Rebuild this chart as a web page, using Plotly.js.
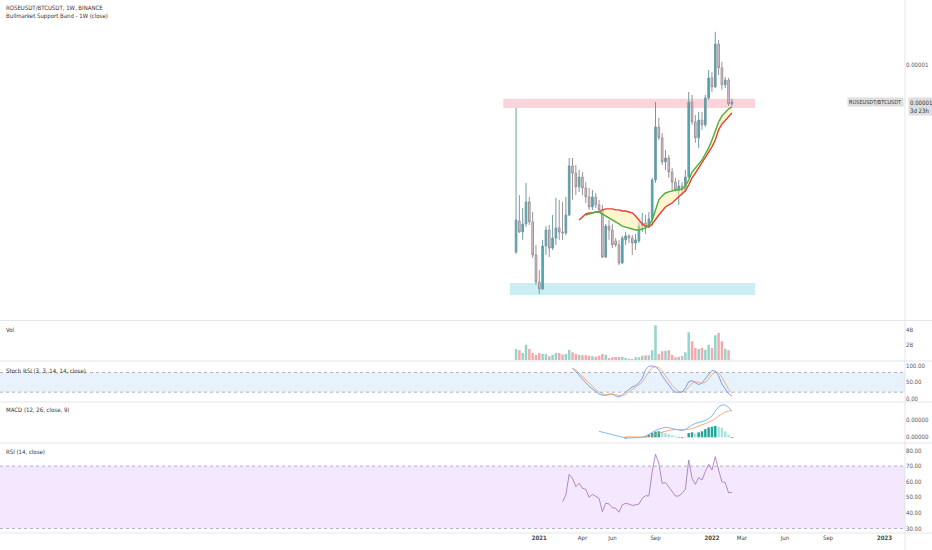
<!DOCTYPE html>
<html><head><meta charset="utf-8">
<script src="https://cdn.plot.ly/plotly-3.0.1.min.js"></script>
<style>html,body{margin:0;padding:0;background:#fff;}#chart{width:932px;height:550px;}</style>
</head><body><div id="chart"></div>
<script>
// Weekly candles (Monday dates)
const dates = ['2020-11-16','2020-11-23','2020-11-30','2020-12-07','2020-12-14','2020-12-21','2020-12-28',
'2021-01-04','2021-01-11','2021-01-18','2021-01-25','2021-02-01','2021-02-08','2021-02-15','2021-02-22',
'2021-03-01','2021-03-08','2021-03-15','2021-03-22','2021-03-29','2021-04-05','2021-04-12','2021-04-19','2021-04-26',
'2021-05-03','2021-05-10','2021-05-17','2021-05-24','2021-05-31','2021-06-07','2021-06-14','2021-06-21','2021-06-28',
'2021-07-05','2021-07-12','2021-07-19','2021-07-26','2021-08-02','2021-08-09','2021-08-16','2021-08-23','2021-08-30',
'2021-09-06','2021-09-13','2021-09-20','2021-09-27','2021-10-04','2021-10-11','2021-10-18','2021-10-25',
'2021-11-01','2021-11-08','2021-11-15','2021-11-22','2021-11-29','2021-12-06','2021-12-13','2021-12-20','2021-12-27',
'2022-01-03','2022-01-10','2022-01-17','2022-01-24','2022-01-31','2022-02-07','2022-02-14'];

// prices in units of 1e-6 (BTC)
const PRICE_UNIT = 1e-6;
const open = [2.94,4.11,3.70,4.00,4.83,4.08,2.83,1.81,1.55,3.17,3.77,3.09,3.47,3.85,3.70,3.66,4.34,6.19,5.92,5.40,
5.77,5.36,5.02,4.64,5.02,4.72,4.53,2.75,3.92,3.77,3.36,3.21,2.53,3.40,3.55,3.47,3.28,3.36,3.92,4.04,
3.89,4.19,5.66,7.66,7.25,6.34,6.49,5.96,5.58,5.28,5.43,5.28,5.77,8.60,7.85,7.25,7.92,7.74,8.75,9.51,
9.17,10.79,9.89,9.25,9.43,8.53];
const high = [8.38,5.09,4.60,5.55,5.02,4.45,3.21,2.26,3.40,3.92,3.96,4.34,4.98,4.91,4.83,5.02,6.49,6.49,6.23,6.04,
5.96,5.58,5.36,5.28,5.17,4.91,4.72,4.00,4.15,4.00,3.47,3.40,3.55,3.70,3.62,3.58,3.62,4.08,4.42,4.34,
4.45,5.74,8.60,8.00,7.43,6.79,6.60,6.11,5.74,5.66,5.58,6.04,8.98,8.87,8.11,8.23,8.23,8.87,9.81,9.74,
11.25,10.94,10.11,9.55,9.51,8.72];
const low = [2.87,3.66,3.40,3.89,3.96,2.72,1.70,1.36,1.51,2.83,2.75,3.02,3.21,3.40,3.40,3.58,4.30,4.91,5.09,5.21,
5.09,4.79,4.53,4.53,4.60,4.42,2.72,2.72,3.40,3.09,3.13,2.45,2.49,3.21,3.28,2.83,3.02,3.28,3.70,3.62,
3.85,3.92,5.55,7.17,6.23,6.04,5.74,5.28,5.21,4.72,5.09,5.21,5.74,7.74,7.06,6.87,7.55,7.66,8.68,8.98,
9.13,9.62,9.06,9.13,8.45,8.45];
const close = [4.15,3.70,4.00,4.83,4.08,2.83,1.81,1.55,3.17,3.77,3.09,3.47,3.85,3.70,3.66,4.34,6.19,5.92,5.40,5.77,
5.36,5.02,4.64,5.02,4.72,4.53,2.75,3.92,3.77,3.21,3.21,2.53,3.47,3.55,3.47,3.28,3.40,3.92,4.04,3.89,
4.19,5.66,7.66,7.25,6.34,6.49,5.96,5.58,5.28,5.43,5.28,5.77,8.60,7.85,7.25,7.92,7.74,8.75,9.51,9.17,
10.79,9.89,9.25,9.43,8.53,8.60];

// Bull market support band (units 1e-6)
const SMA_START = 19;
const sma20 = [4.15,4.26,4.38,4.42,4.42,4.45,4.45,4.53,4.57,4.57,4.57,4.53,4.53,4.49,4.49,4.45,4.42,4.30,4.15,4.00,
3.92,3.89,4.00,4.19,4.34,4.49,4.64,4.72,4.79,4.91,5.02,5.13,5.25,5.47,5.74,5.92,6.11,6.30,6.49,6.68,
6.91,7.17,7.55,7.77,7.92,8.08,8.19];
const EMA_START = 21;
const ema21 = [4.34,4.38,4.42,4.45,4.45,4.38,4.30,4.23,4.15,4.08,4.00,3.92,3.89,3.85,3.81,3.77,3.77,3.81,3.85,3.96,
4.15,4.53,4.91,5.06,5.17,5.21,5.25,5.28,5.28,5.32,5.43,5.66,5.96,6.11,6.23,6.42,6.64,6.87,7.17,7.55,
7.85,8.08,8.23,8.34,8.42];

// Volume in billions
const VOL_UNIT = 1e9;
const volume = [1.47,1.29,0.93,2.04,1.47,0.93,0.71,0.93,0.80,0.80,0.49,0.71,0.93,0.93,0.71,0.80,1.33,1.02,0.84,0.71,
0.62,0.62,0.58,0.49,0.44,0.58,0.80,0.71,0.27,0.36,0.40,0.40,0.44,0.27,0.18,0.13,0.36,0.36,0.58,0.62,
0.62,1.29,4.62,0.80,1.16,1.24,1.29,0.71,0.36,0.44,0.53,1.02,3.69,2.49,1.60,1.47,1.60,1.38,2.04,1.60,
3.29,3.60,2.49,1.51,1.29,0.04];

// Stoch RSI
const STOCH_START = 17;
const stochK = [94,82,70,58,49,38,29,20,14,11,10,14,15,8,5,12,20,30,36,40,48,62,88,99,100,97,88,70,55,40,28,20,19,20,
33,52,55,50,43,48,60,75,86,84,70,45,28,15,8];
const stochD = [92,88,78,68,57,47,36,28,20,15,12,12,13,12,10,9,13,21,29,36,42,50,66,83,95,98,95,85,70,55,41,30,22,20,
24,35,47,52,49,47,50,60,74,82,80,66,47,29,16];

// MACD (units 1e-8)
const MACD_UNIT = 1e-8;
const MACD_START = 25;
const macdLine = [3.4,2.9,2.4,1.8,1.3,0.7,0.2,-0.1,-0.4,-0.4,-0.3,-0.2,-0.1,0,0.7,1.9,3.0,3.8,4.7,5.3,5.6,5.4,4.9,4.4,
4.0,3.7,4.4,5.8,6.9,7.8,8.4,8.9,9.4,10.6,12.0,14.9,17.1,18.2,18.2,16.9,14.9];
const SIGNAL_START = 33;
const macdSignal = [0.3,0.2,0.1,0.0,0.0,0.0,0.1,0.5,1.0,1.6,2.2,3.0,3.5,4.0,4.2,4.3,4.3,4.2,4.2,4.5,4.9,5.5,6.3,7.0,
7.7,8.5,9.4,10.5,12.0,13.3,14.3,14.9,14.9];
const macdHist = [-0.6,-0.4,-0.2,-0.1,0.1,0.2,0.6,1.4,2.4,3.2,3.4,3.0,2.4,1.8,1.2,0.6,-0.3,-0.5,-0.3,2.4,2.8,2.2,2.8,3.4,
4.6,5.6,6.0,6.4,6.0,5.4,3.4,1.5,-0.4];

// RSI
const RSI_START = 14;
const rsi = [47.2,51.5,64.7,62.2,56.8,59.0,55.8,55.1,50.0,51.9,50.6,49.3,40.8,46.2,45.8,43.3,43.0,40.4,45.1,46.2,
45.6,44.8,45.1,45.6,49.4,51.0,50.8,66.4,77.6,71.8,59.0,59.4,56.6,53.6,50.8,50.8,52.6,55.1,73.9,62.2,
58.3,62.6,61.1,66.4,71.2,67.5,76.0,67.5,60.0,59.4,52.9,53.1];

const xTickVals = ['2021-01-04','2021-04-05','2021-06-07','2021-09-06','2022-01-03','2022-03-07','2022-06-06','2022-09-05','2023-01-02'];
const xTickText = ['<b>2021</b>','Apr','Jun','Sep','<b>2022</b>','Mar','Jun','Sep','<b>2023</b>'];

const P = a => a.map(v => v * PRICE_UNIT);
const M = a => a.map(v => v * MACD_UNIT);

const UP = '#3fabb9', UPL = '#6e9ba2', DN = '#e6c9d0', DNL = '#9e9298';
const volColors = close.map((c, i) => c >= open[i] ? '#93d5cb' : '#f5a9ab');
const histColors = macdHist.map((h, i) => {
  const prev = i > 0 ? macdHist[i-1] : 0;
  if (h >= 0) return h >= prev ? '#26a69a' : '#b2dfdb';
  return h < prev ? '#ff5252' : '#ffcdd2';
});

const FONT = 'Liberation Sans Narrow, DejaVu Sans Condensed, Liberation Sans, sans-serif';
const data = [
  {type:'candlestick', x:dates, open:P(open), high:P(high), low:P(low), close:P(close), yaxis:'y',
   increasing:{line:{color:UPL,width:1}, fillcolor:UP}, decreasing:{line:{color:DNL,width:1}, fillcolor:DN},
   whiskerwidth:0, hoverinfo:'skip', showlegend:false},
  {type:'scatter', mode:'lines', x:dates.slice(EMA_START), y:P(sma20.slice(EMA_START - SMA_START)), yaxis:'y',
   line:{width:0, color:'rgba(0,0,0,0)'}, showlegend:false, hoverinfo:'skip'},
  {type:'scatter', mode:'lines', x:dates.slice(EMA_START), y:P(ema21), yaxis:'y', fill:'tonexty',
   fillcolor:'rgba(255,232,150,0.45)', line:{width:0, color:'rgba(0,0,0,0)'}, showlegend:false, hoverinfo:'skip'},
  {type:'scatter', mode:'lines', x:dates.slice(SMA_START), y:P(sma20), yaxis:'y', line:{color:'#e8402f', width:1.4}, showlegend:false},
  {type:'scatter', mode:'lines', x:dates.slice(EMA_START), y:P(ema21), yaxis:'y', line:{color:'#4caf3a', width:1.4}, showlegend:false},
  {type:'bar', x:dates, y:volume.map(v => v * VOL_UNIT), yaxis:'y2', marker:{color:volColors, line:{width:0}}, showlegend:false},
  {type:'scatter', mode:'lines', x:dates.slice(STOCH_START), y:stochK, yaxis:'y3', line:{color:'#5d86f0', width:0.8}, showlegend:false},
  {type:'scatter', mode:'lines', x:dates.slice(STOCH_START), y:stochD, yaxis:'y3', line:{color:'#f2a068', width:0.8}, showlegend:false},
  {type:'bar', x:dates.slice(SIGNAL_START), y:M(macdHist), yaxis:'y4', marker:{color:histColors, line:{width:0}}, showlegend:false},
  {type:'scatter', mode:'lines', x:dates.slice(MACD_START), y:M(macdLine), yaxis:'y4', line:{color:'#5aaaf0', width:0.8}, showlegend:false},
  {type:'scatter', mode:'lines', x:dates.slice(SIGNAL_START), y:M(macdSignal), yaxis:'y4', line:{color:'#f5985a', width:0.8}, showlegend:false},
  {type:'scatter', mode:'lines', x:dates.slice(RSI_START), y:rsi, yaxis:'y5', line:{color:'#a56cbc', width:0.8}, showlegend:false}
];

const H = 533;
const dom = (top, bot) => [(H - bot) / H, (H - top) / H];
const tf = {size:6, color:'#555', family:FONT};
const yBase = {side:'right', anchor:'x', showgrid:false, zeroline:false, showline:false, ticks:'', tickfont:tf, fixedrange:true};

const layout = {
  width:932, height:550, margin:{l:0, r:27, t:0, b:17},
  paper_bgcolor:'#ffffff', plot_bgcolor:'#ffffff',
  font:{family:FONT, size:6, color:'#333'},
  showlegend:false, bargap:0.25,
  xaxis:{type:'date', anchor:'y5', range:['2017-11-24','2023-02-14'], rangeslider:{visible:false},
         showgrid:false, zeroline:false, showline:false, ticks:'', tickvals:xTickVals, ticktext:xTickText,
         tickfont:{size:6, color:'#444', family:FONT}},
  yaxis: Object.assign({}, yBase, {domain:dom(0, 320), range:[0.377e-6, 12.45e-6], tickvals:[1e-5], ticktext:['0.00001']}),
  yaxis2: Object.assign({}, yBase, {domain:dom(321, 360.5), range:[-0.07e9, 5.2e9], tickvals:[2e9, 4e9], ticktext:['2B','4B']}),
  yaxis3: Object.assign({}, yBase, {domain:dom(361, 402), range:[-10, 115], tickvals:[0, 50, 100], ticktext:['0.00','50.00','100.00']}),
  yaxis4: Object.assign({}, yBase, {domain:dom(402, 443), range:[-3.2e-8, 19.9e-8], tickvals:[0, 1e-7, 2e-7], ticktext:['0.00000','0.00000','0.00000']}),
  yaxis5: Object.assign({}, yBase, {domain:dom(443, 533), range:[27.1, 84.8], tickvals:[30,40,50,60,70,80], ticktext:['30.00','40.00','50.00','60.00','70.00','80.00']}),
  shapes:[
    {type:'rect', xref:'x', yref:'y', x0:'2020-10-20', x1:'2022-04-04', y0:8.38e-6, y1:8.72e-6, fillcolor:'#fbd3da', line:{width:0}, layer:'below'},
    {type:'rect', xref:'x', yref:'y', x0:'2020-11-03', x1:'2022-04-04', y0:1.32e-6, y1:1.77e-6, fillcolor:'#c9eef4', line:{width:0}, layer:'below'},
    {type:'rect', xref:'paper', yref:'y3', x0:0, x1:1, y0:20, y1:80, fillcolor:'#e7f2fd', line:{width:0}, layer:'below'},
    {type:'line', xref:'paper', yref:'y3', x0:0, x1:1, y0:80, y1:80, line:{color:'#9aa0ab', width:0.8, dash:'dot'}},
    {type:'line', xref:'paper', yref:'y3', x0:0, x1:1, y0:20, y1:20, line:{color:'#9aa0ab', width:0.8, dash:'dot'}},
    {type:'rect', xref:'paper', yref:'y5', x0:0, x1:1, y0:30, y1:70, fillcolor:'#f3e8fd', line:{width:0}, layer:'below'},
    {type:'line', xref:'paper', yref:'y5', x0:0, x1:1, y0:70, y1:70, line:{color:'#a79bb0', width:0.8, dash:'dot'}},
    {type:'line', xref:'paper', yref:'y5', x0:0, x1:1, y0:30, y1:30, line:{color:'#a79bb0', width:0.8, dash:'dot'}},
    {type:'line', xref:'paper', yref:'paper', x0:0, x1:1.03, y0:(H-320.5)/H, y1:(H-320.5)/H, line:{color:'#e3e5ea', width:1}},
    {type:'line', xref:'paper', yref:'paper', x0:0, x1:1.03, y0:(H-361)/H, y1:(H-361)/H, line:{color:'#e3e5ea', width:1}},
    {type:'line', xref:'paper', yref:'paper', x0:0, x1:1.03, y0:(H-402)/H, y1:(H-402)/H, line:{color:'#e3e5ea', width:1}},
    {type:'line', xref:'paper', yref:'paper', x0:0, x1:1.03, y0:(H-443)/H, y1:(H-443)/H, line:{color:'#e3e5ea', width:1}},
    {type:'line', xref:'paper', yref:'paper', x0:0, x1:1.03, y0:0, y1:0, line:{color:'#e3e5ea', width:1}},
    {type:'line', xref:'paper', yref:'paper', x0:1, x1:1, y0:-0.032, y1:1, line:{color:'#e3e5ea', width:1}}
  ],
  annotations:[
    {xref:'paper', yref:'paper', x:0.004, y:(H-7)/H, xanchor:'left', yanchor:'middle', showarrow:false, text:'ROSEUSDT/BTCUSDT, 1W, BINANCE', font:{size:6, color:'#333', family:FONT}},
    {xref:'paper', yref:'paper', x:0.004, y:(H-16)/H, xanchor:'left', yanchor:'middle', showarrow:false, text:'Bullmarket Support Band - 1W (close)', font:{size:6, color:'#333', family:FONT}},
    {xref:'paper', yref:'paper', x:0.004, y:(H-329)/H, xanchor:'left', yanchor:'middle', showarrow:false, text:'Vol', font:{size:6, color:'#333', family:FONT}},
    {xref:'paper', yref:'paper', x:0.004, y:(H-370)/H, xanchor:'left', yanchor:'middle', showarrow:false, text:'Stoch RSI (3, 3, 14, 14, close)', font:{size:6, color:'#333', family:FONT}},
    {xref:'paper', yref:'paper', x:0.004, y:(H-410)/H, xanchor:'left', yanchor:'middle', showarrow:false, text:'MACD (12, 26, close, 9)', font:{size:6, color:'#333', family:FONT}},
    {xref:'paper', yref:'paper', x:0.004, y:(H-452)/H, xanchor:'left', yanchor:'middle', showarrow:false, text:'RSI (14, close)', font:{size:6, color:'#333', family:FONT}},
    {xref:'paper', yref:'y', x:1.003, y:close[close.length-1]*PRICE_UNIT, xanchor:'left', yanchor:'top', yshift:5, showarrow:false,
     text:'0.00001<br>3d 23h', align:'left', bgcolor:'#dedede', borderpad:1, font:{size:6, color:'#333', family:FONT}},
    {xref:'paper', yref:'y', x:0.999, y:close[close.length-1]*PRICE_UNIT, xanchor:'right', yanchor:'middle', showarrow:false,
     text:'ROSEUSDT/BTCUSDT', bgcolor:'#dedede', borderpad:1, font:{size:5.5, color:'#333', family:FONT}}
  ]
};

Plotly.newPlot('chart', data, layout, {staticPlot:true, displayModeBar:false});
</script></body></html>
